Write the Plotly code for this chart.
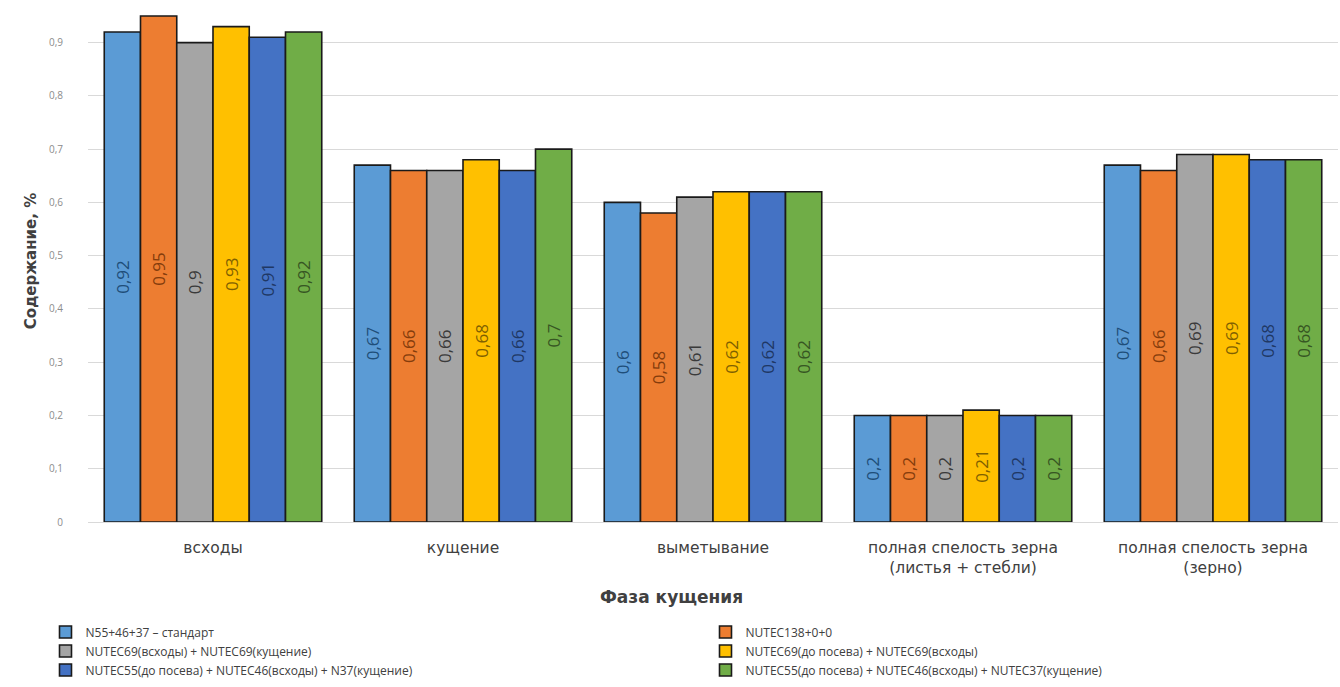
import plotly.graph_objects as go

# Growth phases (x categories)
phases = [
    "всходы",
    "кущение",
    "выметывание",
    "полная спелость зерна<br>(листья + стебли)",
    "полная спелость зерна<br>(зерно)",
]

# Fertilizer treatments (legend entries)
treatments = [
    "N55+46+37 – стандарт",
    "NUTEC138+0+0",
    "NUTEC69(всходы) + NUTEC69(кущение)",
    "NUTEC69(до посева) + NUTEC69(всходы)",
    "NUTEC55(до посева) + NUTEC46(всходы) + N37(кущение)",
    "NUTEC55(до посева) + NUTEC46(всходы) + NUTEC37(кущение)",
]

# Content, % — one list per treatment, ordered by phase
standard = [0.92, 0.67, 0.60, 0.20, 0.67]
nutec138 = [0.95, 0.66, 0.58, 0.20, 0.66]
nutec69_sprout_till = [0.90, 0.66, 0.61, 0.20, 0.69]
nutec69_sow_sprout = [0.93, 0.68, 0.62, 0.21, 0.69]
nutec55_46_n37 = [0.91, 0.66, 0.62, 0.20, 0.68]
nutec55_46_37 = [0.92, 0.70, 0.62, 0.20, 0.68]

series = [standard, nutec138, nutec69_sprout_till,
          nutec69_sow_sprout, nutec55_46_n37, nutec55_46_37]

bar_colors = ["#5B9BD5", "#ED7D31", "#A5A5A5", "#FFC000", "#4472C4", "#70AD47"]
label_colors = ["#1F4E79", "#843C0C", "#3A3A3A", "#7F6000", "#1F3864", "#375623"]
# legend column for each treatment: left column gets the even entries
legend_ids = ["legend", "legend2", "legend", "legend2", "legend", "legend2"]

y_ticks = [0, 0.1, 0.2, 0.3, 0.4, 0.5, 0.6, 0.7, 0.8, 0.9]


def fmt(v):
    return f"{v:g}".replace(".", ",")


fig = go.Figure()
for name, vals, col, lcol, lg in zip(treatments, series, bar_colors,
                                     label_colors, legend_ids):
    fig.add_trace(go.Bar(
        name=name,
        x=phases,
        y=vals,
        legend=lg,
        marker=dict(color=col, line=dict(color="#1a1a1a", width=1.6)),
        text=[fmt(v) for v in vals],
        textposition="inside",
        insidetextanchor="middle",
        textangle=-90,
        textfont=dict(family="Open Sans", size=17, color=lcol),
    ))

legend_style = dict(
    orientation="v",
    xanchor="left",
    y=-0.183,
    yanchor="top",
    font=dict(family="Open Sans", size=12, color="#404040"),
    itemwidth=30,
    tracegroupgap=0,
    traceorder="normal",
    bgcolor="rgba(0,0,0,0)",
)

fig.update_layout(
    barmode="group",
    bargap=0.13,
    bargroupgap=0,
    width=1340,
    height=687,
    margin=dict(l=88, r=2, t=0, b=165, autoexpand=False),
    plot_bgcolor="white",
    paper_bgcolor="white",
    separators=",.",
    xaxis=dict(
        tickfont=dict(family="DejaVu Sans", size=15.5, color="#404040"),
        showline=False,
        ticks="",
        ticklabelstandoff=14,
    ),
    yaxis=dict(
        range=[0, 0.98],
        tickvals=y_ticks,
        ticktext=[fmt(v) for v in y_ticks],
        tickfont=dict(family="Open Sans", size=10, color="#8C8C8C"),
        gridcolor="#D9D9D9",
        gridwidth=1,
        zeroline=True,
        zerolinecolor="#D9D9D9",
        zerolinewidth=1,
        showline=False,
        ticks="",
        ticklabelstandoff=24,
        title=dict(text="<b>Содержание, %</b>",
                   font=dict(family="DejaVu Sans", size=15, color="#404040"),
                   standoff=8),
    ),
    legend=dict(legend_style, x=-0.034),
    legend2=dict(legend_style, x=0.494),
    annotations=[dict(
        text="<b>Фаза кущения</b>",
        xref="paper", yref="paper",
        x=0.467, y=-0.143,
        xanchor="center", yanchor="middle",
        showarrow=False,
        font=dict(family="DejaVu Sans", size=17, color="#404040"),
    )],
)

fig.write_html("out.html")
